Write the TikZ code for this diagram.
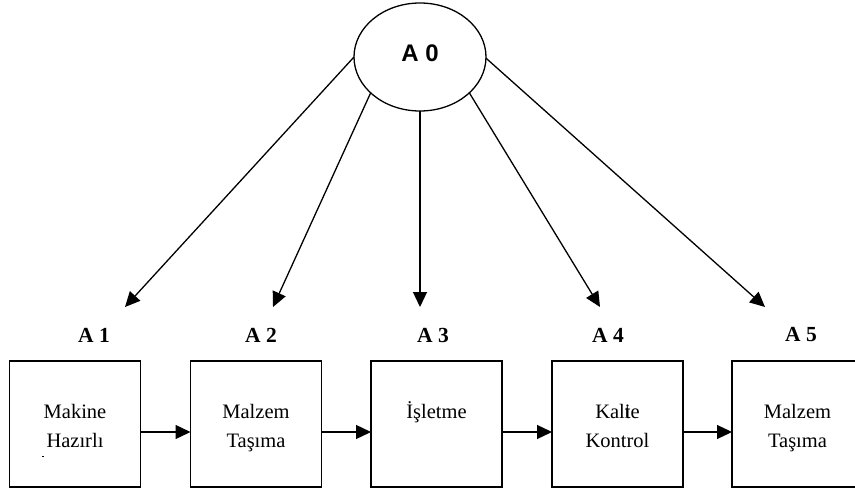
\documentclass[tikz,border=0pt]{standalone}
\usepackage{fontspec}
\setmainfont{Liberation Serif}
\newfontfamily\arialfont{Liberation Sans}
\usetikzlibrary{arrows.meta,shapes.geometric}
\begin{document}
\begin{tikzpicture}[x=1pt,y=-1pt,
  box/.style={draw, line width=1.3pt, minimum width=131pt, minimum height=126pt, inner sep=0pt, outer sep=0pt},
  lbl/.style={font=\fontsize{21.5}{24}\selectfont\bfseries, inner sep=0pt},
  txt/.style={font=\fontsize{20.5}{29}\selectfont, anchor=base, inner sep=0pt},
  arr/.style={line width=1.3pt, -{Triangle[length=15pt,width=14pt]}}]
\clip (0,0) rectangle (855,492);
\useasboundingbox (0,0) rectangle (855,492);
% top ellipse
\node[draw, ellipse, line width=1.3pt, minimum width=132pt, minimum height=108pt, inner sep=0pt, outer sep=0pt] (a0) at (420,57) {};
\node[font=\arialfont\bfseries\fontsize{24}{27}\selectfont, inner sep=0pt] (a0t) at (420,53) {A 0};
% labels
\node[lbl] (l1) at (94,335) {A 1};
\node[lbl] (l2) at (261,335) {A 2};
\node[lbl] (l3) at (433,335) {A 3};
\node[lbl] (l4) at (608,335) {A 4};
\node[lbl] (l5) at (801,335) {A 5};
% boxes
\node[box] (b1) at (75,424) {};
\node[box] (b2) at (256,424) {};
\node[box] (b3) at (436.5,424) {};
\node[box] (b4) at (617.5,424) {};
\node[box] (b5) at (797.5,424) {};
% box texts
\node[txt] (t1) at (75,418) {\parbox[t]{130pt}{\centering Makine\\Hazırlı}};
\node[txt] (t2) at (256,418) {\parbox[t]{130pt}{\centering Malzem\\Taşıma}};
\node[txt] (t3) at (436.5,418) {\parbox[t]{130pt}{\centering İşletme}};
\node[txt] (t4) at (617.5,418) {\parbox[t]{130pt}{\centering Kal\rlap{i}te\\Kontrol}};
\node[txt] (t5) at (797.5,418) {\parbox[t]{130pt}{\centering Malzem\\Taşıma}};
\fill (42,455.5) rectangle (44,456.5);
% arrow tips
\coordinate (p1) at (125,307);
\coordinate (p2) at (273,307);
\coordinate (p3) at (420,307);
\coordinate (p4) at (600,307);
\coordinate (p5) at (765,307);
\draw[arr] (a0.180) -- (p1);
\draw[arr] (a0.216) -- (p2);
\draw[arr] (a0.270) -- (p3);
\draw[arr] (a0.324) -- (p4);
\draw[arr] (a0.359) -- (p5);
% horizontal arrows
\draw[arr] ([yshift=-8pt]b1.east) -- ([yshift=-8pt]b2.west);
\draw[arr] ([yshift=-8pt]b2.east) -- ([yshift=-8pt]b3.west);
\draw[arr] ([yshift=-8pt]b3.east) -- ([yshift=-8pt]b4.west);
\draw[arr] ([yshift=-8pt]b4.east) -- ([yshift=-8pt]b5.west);
\end{tikzpicture}
\end{document}
